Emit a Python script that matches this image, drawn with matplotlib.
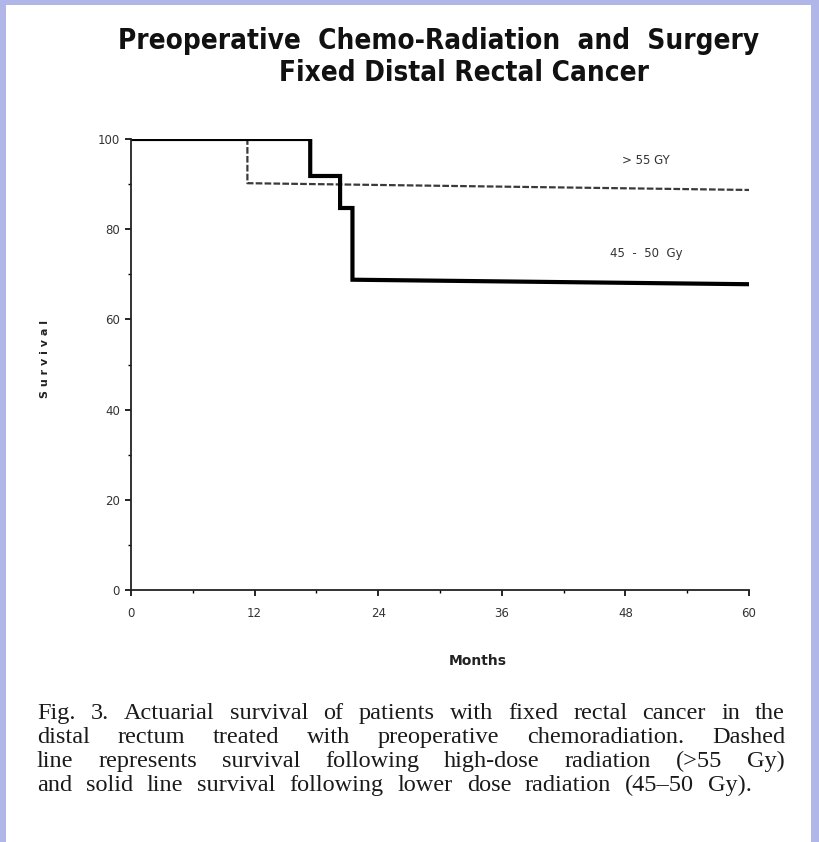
import matplotlib
matplotlib.use('Agg')
import matplotlib.pyplot as plt
from matplotlib.patches import Rectangle
from matplotlib.ticker import MultipleLocator
from matplotlib.font_manager import FontProperties, findfont

# Kaplan-Meier-Kurven (Monate, Überleben in %)
high_dose_months = [0, 11.3, 11.3, 60]
high_dose_survival = [100, 100, 90.2, 88.7]
low_dose_months = [0, 17.4, 17.4, 20.3, 20.3, 21.5, 21.5, 60]
low_dose_survival = [100, 100, 91.8, 91.8, 84.7, 84.7, 68.8, 67.8]

x_ticks = [0, 12, 24, 36, 48, 60]
y_ticks = [0, 20, 40, 60, 80, 100]

title_lines = ["Preoperative  Chemo-Radiation  and  Surgery", "Fixed Distal Rectal Cancer"]
caption_lines = [
    "Fig. 3. Actuarial survival of patients with fixed rectal cancer in the",
    "distal rectum treated with preoperative chemoradiation. Dashed",
    "line represents survival following high-dose radiation (>55 Gy)",
    "and solid line survival following lower dose radiation (45\u201350 Gy).",
]

# schmale, fette Schrift für den Titel, falls vorhanden
cond = findfont(FontProperties(family='DejaVu Sans', stretch='condensed', weight='bold'))
if 'Condensed' in cond:
    title_fp = FontProperties(fname=cond)
else:
    title_fp = FontProperties(family='Liberation Sans', weight='bold')

W, H = 819, 842
fig = plt.figure(figsize=(W / 100, H / 100), dpi=100)
fig.patch.set_facecolor('#b0b7e8')
fig.patches.append(Rectangle((6 / W, 0), 805 / W, 1 - 5 / H, transform=fig.transFigure,
                             facecolor='white', edgecolor='none', zorder=-5))

ax = fig.add_axes([131 / W, 1 - 590 / H, 618 / W, 451 / H])
ax.set_facecolor('none')
ax.plot(high_dose_months, high_dose_survival, color='#3a3a3a', lw=1.6,
        linestyle=(0, (3, 1)), solid_capstyle='butt')
ax.plot(low_dose_months, low_dose_survival, color='black', lw=3.0,
        solid_joinstyle='miter')

ax.set_xlim(0, 60)
ax.set_ylim(0, 100)
ax.set_xticks(x_ticks)
ax.set_yticks(y_ticks)
ax.xaxis.set_minor_locator(MultipleLocator(6))
ax.yaxis.set_minor_locator(MultipleLocator(10))
for side in ['top', 'right']:
    ax.spines[side].set_visible(False)
for side in ['left', 'bottom']:
    ax.spines[side].set_linewidth(1.3)
    ax.spines[side].set_color('#222222')
ax.tick_params(which='major', length=4, width=1.2, labelsize=8.5, labelcolor='#333333', pad=4)
ax.tick_params(which='minor', length=2, width=1.0)
ax.tick_params(axis='x', pad=8)

ax.text(50, 95.3, '> 55 GY', fontsize=8.5, color='#333333', ha='center', va='center')
ax.text(50, 74.7, '45  -  50  Gy', fontsize=8.5, color='#333333', ha='center', va='center')

fig.text(45 / W, 1 - 359 / H, 'S u r v i v a l', rotation=90, fontsize=8, fontweight='bold',
         ha='center', va='center', color='#222222')
fig.text(478 / W, 1 - 661 / H, 'Months', fontsize=10, fontweight='bold',
         ha='center', va='center', color='#222222')

renderer = fig.canvas.get_renderer()

# Titel: Schriftgröße so wählen, dass die erste Zeile ca. 650 px breit ist
t1 = fig.text(439 / W, 1 - 49 / H, title_lines[0], fontproperties=title_fp, fontsize=16,
              ha='center', va='baseline', color='#111111')
t2 = fig.text(464 / W, 1 - 81 / H, title_lines[1], fontproperties=title_fp, fontsize=16,
              ha='center', va='baseline', color='#111111')
title_size = min(16 * 650 / t1.get_window_extent(renderer).width, 20)
t1.set_fontsize(title_size)
t2.set_fontsize(title_size)

# Bildunterschrift im Blocksatz (letzte Zeile endet früher)
cap_size = 17.5
left_px = 37
line_ends = [785, 785, 785, 752]
for i, line in enumerate(caption_lines):
    y = 1 - (719 + 24 * i) / H
    words = line.split(' ')
    texts = [fig.text(0, y, w, fontsize=cap_size, family='Liberation Serif', ha='left',
                      va='baseline', color='#1a1a1a') for w in words]
    widths = [t.get_window_extent(renderer).width for t in texts]
    gap = (line_ends[i] - left_px - sum(widths)) / (len(words) - 1)
    x = left_px
    for t, w in zip(texts, widths):
        t.set_x(x / W)
        x += w + gap

fig.savefig('out.png', dpi=100)
